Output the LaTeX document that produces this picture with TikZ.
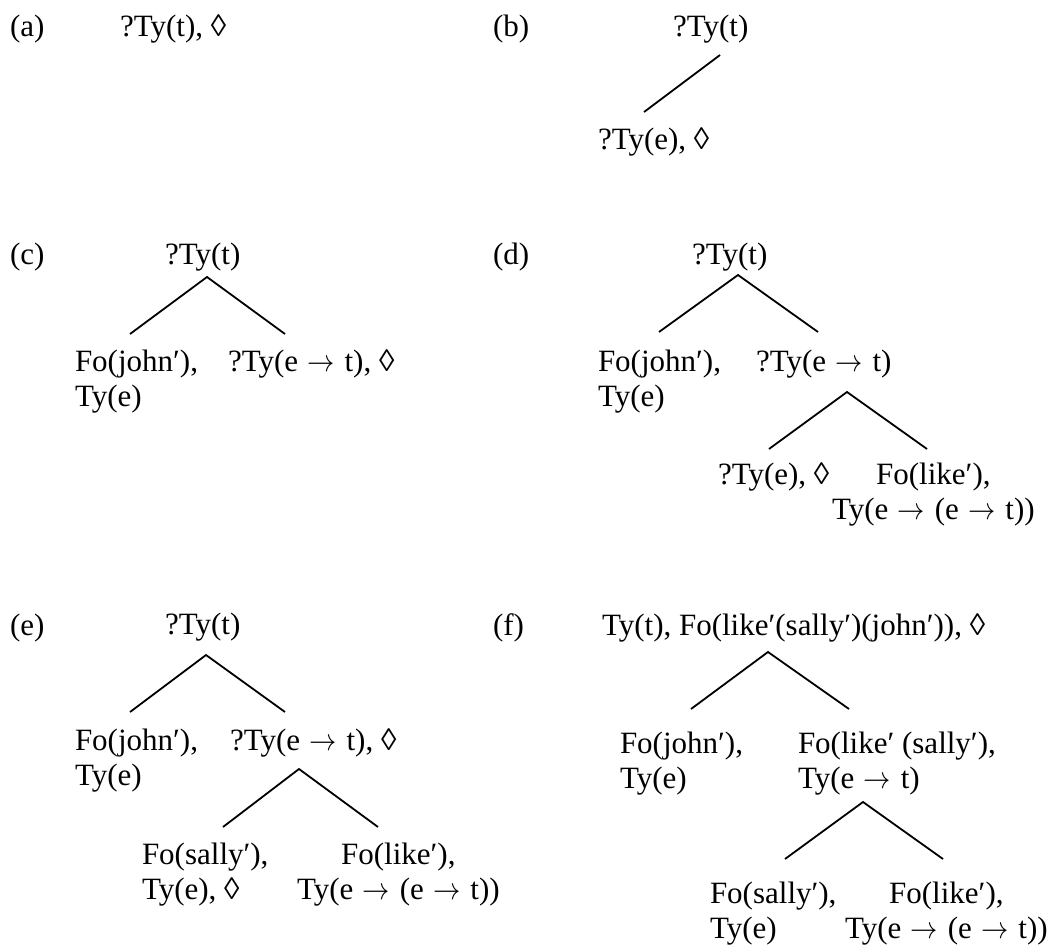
\RequirePackage{fix-cm}
\documentclass[tikz,border=0pt]{standalone}
\usepackage{graphicx}
\usepackage{fontspec}
\setmainfont{Liberation Serif}
\newcommand\tarrow{\makebox[31pt][c]{\scalebox{0.88}[1]{$\rightarrow$}}}
\begin{document}
\begin{tikzpicture}[x=1pt,y=-1pt,
  every node/.style={inner sep=0pt, outer sep=0pt, anchor=base west, font=\fontsize{31}{35}\selectfont},
  edge/.style={line width=1.8pt}]
\useasboundingbox (0,0) rectangle (1063,949);
% labels
\node (la) at (10,37) {(a)};
\node (lb) at (493,37) {(b)};
\node (lc) at (10,265) {(c)};
\node (ld) at (493,265) {(d)};
\node (le) at (10,635) {(e)};
\node (lf) at (493,635) {(f)};
% (a)
\node (a0) at (120,37) {?Ty(t), ◊};
% (b)
\node (b0) at (673,37) {?Ty(t)};
\node (b1) at (598,150) {?Ty(e), ◊};
\draw[edge] ([shift={(47,18)}]b0.base west) -- ([shift={(46,-38)}]b1.base west);
% (c)
\node (c0) at (165,265) {?Ty(t)};
\node (c1) at (75,372) {\begin{tabular}[t]{@{}l@{}}Fo(john′),\\Ty(e)\end{tabular}};
\node (c2) at (228,372) {?Ty(e \tarrow{} t), ◊};
\draw[edge] ([shift={(55,-38)}]c1.base west) -- ([shift={(42,12)}]c0.base west) -- ([shift={(57,-38)}]c2.base west);
% (d)
\node (d0) at (692,265) {?Ty(t)};
\node (d1) at (598,372) {\begin{tabular}[t]{@{}l@{}}Fo(john′),\\Ty(e)\end{tabular}};
\node (d2) at (756,372) {?Ty(e \tarrow{} t)};
\node (d3) at (718,484) {?Ty(e), ◊};
\node (d4) at (832,484) {\begin{tabular}[t]{@{}c@{}}Fo(like′),\\Ty(e \tarrow{} (e \tarrow{} t))\end{tabular}};
\draw[edge] ([shift={(61,-40)}]d1.base west) -- ([shift={(46,10)}]d0.base west) -- ([shift={(62,-40)}]d2.base west);
\draw[edge] ([shift={(51,-35)}]d3.base west) -- ([shift={(91,20)}]d2.base west) -- ([shift={(95,-35)}]d4.base west);
% (e)
\node (e0) at (165,634) {?Ty(t)};
\node (e1) at (75,750) {\begin{tabular}[t]{@{}l@{}}Fo(john′),\\Ty(e)\end{tabular}};
\node (e2) at (230,750) {?Ty(e \tarrow{} t), ◊};
\node (e3) at (142,864) {\begin{tabular}[t]{@{}l@{}}Fo(sally′),\\Ty(e), ◊\end{tabular}};
\node (e4) at (297,864) {\begin{tabular}[t]{@{}c@{}}Fo(like′),\\Ty(e \tarrow{} (e \tarrow{} t))\end{tabular}};
\draw[edge] ([shift={(55,-38)}]e1.base west) -- ([shift={(41,21)}]e0.base west) -- ([shift={(55,-38)}]e2.base west);
\draw[edge] ([shift={(81,-37)}]e3.base west) -- ([shift={(69,19)}]e2.base west) -- ([shift={(81,-37)}]e4.base west);
% (f)
\node (f0) at (602,635) {Ty(t), Fo(like′(sally′)(john′)), ◊};
\node (f1) at (620,753) {\begin{tabular}[t]{@{}l@{}}Fo(john′),\\Ty(e)\end{tabular}};
\node (f2) at (798,753) {\begin{tabular}[t]{@{}l@{}}Fo(like′ (sally′),\\Ty(e \tarrow{} t)\end{tabular}};
\node (f3) at (710,903) {\begin{tabular}[t]{@{}l@{}}Fo(sally′),\\Ty(e)\end{tabular}};
\node (f4) at (845,903) {\begin{tabular}[t]{@{}c@{}}Fo(like′),\\Ty(e \tarrow{} (e \tarrow{} t))\end{tabular}};
\draw[edge] ([shift={(71,-44)}]f1.base west) -- ([shift={(166,17)}]f0.base west) -- ([shift={(51,-44)}]f2.base west);
\draw[edge] ([shift={(75,-44)}]f3.base west) -- ([shift={(65,49)}]f2.base west) -- ([shift={(98,-44)}]f4.base west);
\end{tikzpicture}
\end{document}
